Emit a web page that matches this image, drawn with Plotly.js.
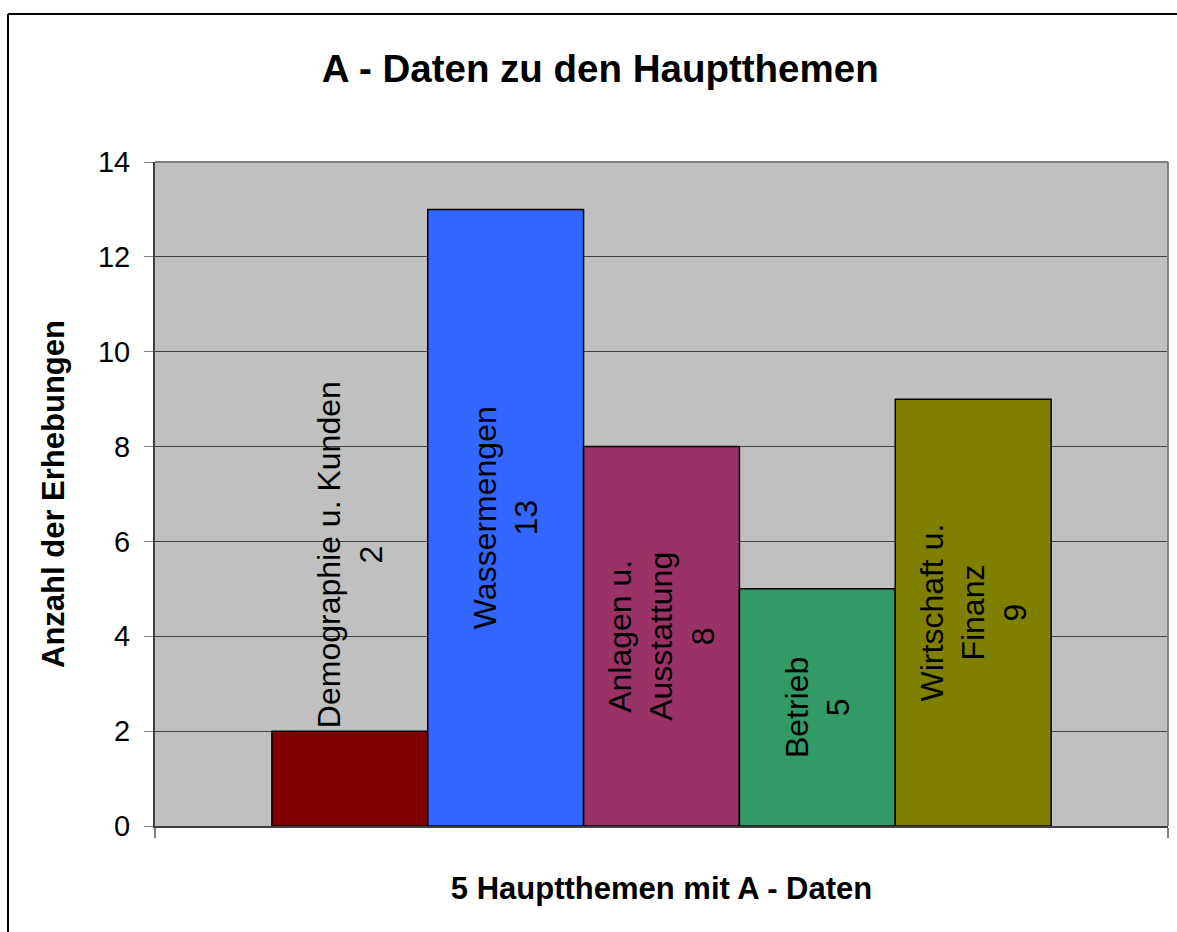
<!DOCTYPE html>
<html>
<head>
<meta charset="utf-8">
<script src="https://cdn.plot.ly/plotly-3.0.1.min.js"></script>
<style>
  html, body { margin: 0; padding: 0; background: #ffffff; }
  #chart { width: 1177px; height: 932px; }
</style>
</head>
<body>
<div id="chart"></div>
<script>
const categories = ['Demographie u. Kunden', 'Wassermengen', 'Anlagen u.<br>Ausstattung', 'Betrieb', 'Wirtschaft u.<br>Finanz'];
const values = [2, 13, 8, 5, 9];
const barColors = ['#800000', '#3366FF', '#993366', '#339966', '#808000'];
const labelPlacement = ['outside', 'inside', 'inside', 'inside', 'inside'];
const yTicks = [0, 2, 4, 6, 8, 10, 12, 14];

const chartTitle = 'A - Daten zu den Hauptthemen';
const xTitle = '5 Hauptthemen mit A - Daten';
const yTitle = 'Anzahl der Erhebungen';

const FONT = '"Liberation Sans", Arial, Helvetica, sans-serif';

const positions = categories.map((c, i) => i + 1);
const labels = categories.map((c, i) => c + '<br>' + values[i]);

const trace = {
  type: 'bar',
  x: positions,
  y: values,
  width: 1,
  marker: { color: barColors, line: { color: '#000000', width: 1.5 } },
  text: labels,
  textposition: labelPlacement,
  textangle: -90,
  insidetextanchor: 'middle',
  constraintext: 'none',
  cliponaxis: false,
  textfont: { family: FONT, size: 32, color: '#000000' },
  insidetextfont: { family: FONT, size: 32, color: '#000000' },
  outsidetextfont: { family: FONT, size: 32, color: '#000000' },
  hoverinfo: 'skip'
};

const layout = {
  width: 1177,
  height: 932,
  margin: { l: 155, r: 9, t: 162, b: 106 },
  paper_bgcolor: '#ffffff',
  plot_bgcolor: '#C0C0C0',
  showlegend: false,
  font: { family: FONT, color: '#000000' },
  title: {
    text: '<b>' + chartTitle + '</b>',
    font: { family: FONT, size: 38.5, color: '#000000' },
    xref: 'container', x: 0.51, xanchor: 'center',
    yref: 'container', y: 0.927, yanchor: 'middle'
  },
  xaxis: {
    range: [-0.25, 6.25],
    showgrid: false,
    zeroline: false,
    showline: true,
    linecolor: '#404040',
    linewidth: 2,
    tickmode: 'array',
    tickvals: [-0.25, 6.25],
    ticktext: ['', ''],
    ticks: 'outside',
    ticklen: 10,
    tickwidth: 2,
    tickcolor: '#808080',
    fixedrange: true,
    title: {
      text: '<b>' + xTitle + '</b>',
      font: { family: FONT, size: 31, color: '#000000' },
      standoff: 38
    }
  },
  yaxis: {
    range: [0, 14],
    tickmode: 'array',
    tickvals: yTicks,
    showgrid: true,
    gridcolor: '#404040',
    gridwidth: 1,
    zeroline: false,
    showline: true,
    linecolor: '#404040',
    linewidth: 2,
    ticks: 'outside',
    ticklen: 9,
    tickwidth: 1,
    tickcolor: '#808080',
    ticklabelstandoff: 8,
    tickfont: { family: FONT, size: 29, color: '#000000' },
    fixedrange: true,
    title: {
      text: '<b>' + yTitle + '</b>',
      font: { family: FONT, size: 31, color: '#000000' },
      standoff: 24
    }
  },
  shapes: [
    { type: 'line', xref: 'paper', yref: 'paper', x0: 0, x1: 1, y0: 1, y1: 1, line: { color: '#808080', width: 2 } },
    { type: 'line', xref: 'paper', yref: 'paper', x0: 1, x1: 1, y0: 0, y1: 1, line: { color: '#808080', width: 2 } },
    { type: 'line', xref: 'paper', yref: 'paper', x0: -0.1451, x1: 1.02, y0: 1.2229, y1: 1.2229, line: { color: '#000000', width: 2 } },
    { type: 'line', xref: 'paper', yref: 'paper', x0: -0.1451, x1: -0.1451, y0: -0.3, y1: 1.2229, line: { color: '#000000', width: 2 } }
  ]
};

Plotly.newPlot('chart', [trace], layout, { displayModeBar: false, staticPlot: true });
</script>
</body>
</html>
